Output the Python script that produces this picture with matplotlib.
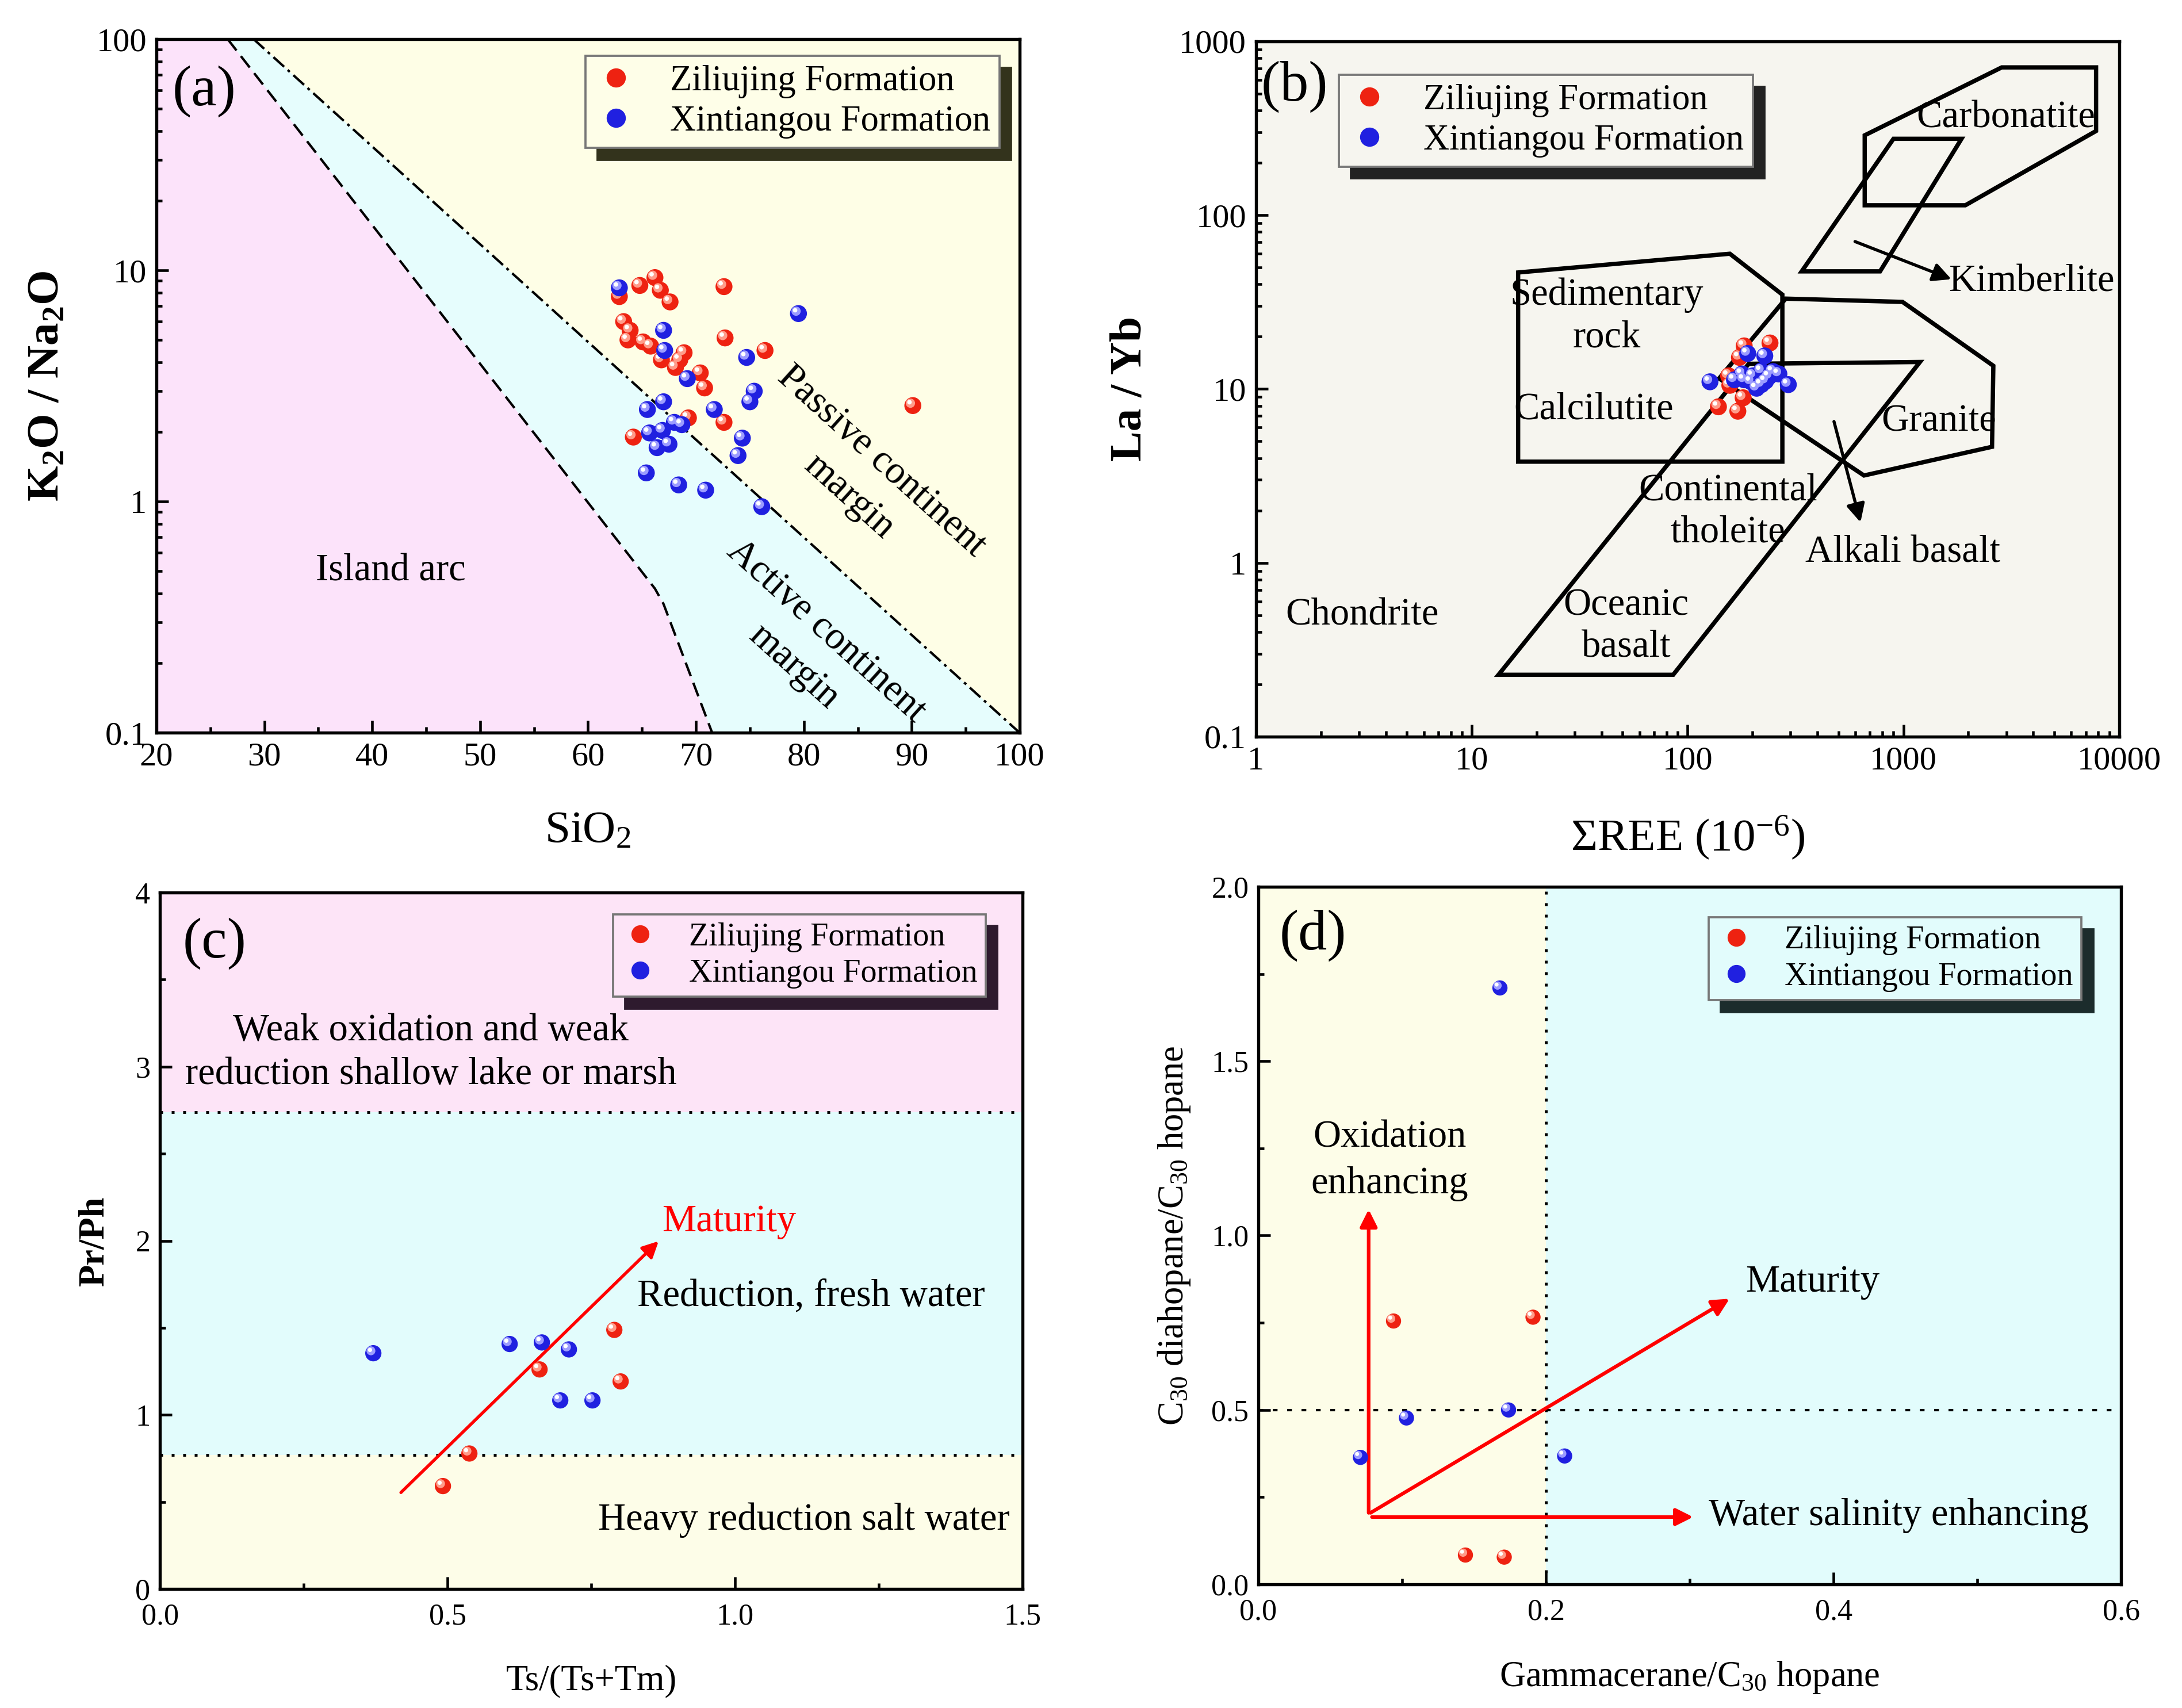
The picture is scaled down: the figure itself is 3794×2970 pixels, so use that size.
import matplotlib
matplotlib.use('Agg')
import matplotlib.pyplot as plt
from matplotlib.transforms import offset_copy
from matplotlib.lines import Line2D
from matplotlib.ticker import LogLocator, FuncFormatter, MultipleLocator, NullFormatter

plt.rcParams['font.family'] = ['Liberation Serif', 'DejaVu Serif']
plt.rcParams['mathtext.fontset'] = 'custom'
plt.rcParams['mathtext.rm'] = 'Liberation Serif'
plt.rcParams['mathtext.it'] = 'Liberation Serif:italic'
plt.rcParams['mathtext.bf'] = 'Liberation Serif:bold'

# ---- (a) SiO2 vs K2O/Na2O ----
a_zlj_sio2 = [62.9, 64.8, 66.2, 66.7, 67.6, 72.6, 63.3, 63.9, 63.7, 65.1, 65.8, 72.7,
              68.9, 68.5, 66.8, 68.1, 70.4, 70.8, 76.4, 90.1, 69.3, 72.6, 64.2]
a_zlj_ratio = [7.7, 8.6, 9.3, 8.2, 7.3, 8.5, 6.0, 5.5, 5.0, 4.9, 4.7, 5.1,
               4.4, 4.1, 4.1, 3.8, 3.6, 3.1, 4.5, 2.6, 2.3, 2.2, 1.9]
a_xtg_sio2 = [62.9, 79.5, 67.0, 67.1, 74.7, 69.2, 75.4, 75.0, 67.0, 65.5, 71.7, 68.0,
              68.7, 65.7, 66.9, 74.3, 66.4, 67.5, 73.9, 65.4, 68.4, 70.9, 76.1]
a_xtg_ratio = [8.4, 6.5, 5.5, 4.5, 4.2, 3.4, 3.0, 2.7, 2.7, 2.5, 2.5, 2.2,
               2.15, 1.98, 2.03, 1.88, 1.71, 1.77, 1.58, 1.33, 1.18, 1.12, 0.95]
arc_sio2 = [26.6, 66.2, 67.0, 71.5]
arc_ratio = [100, 0.42, 0.36, 0.1]
acm_sio2 = [29.0, 100]
acm_ratio = [100, 0.1]

# ---- (b) REE vs La/Yb ----
b_zlj_ree = [183, 241, 174, 155, 157, 181, 139, 171]
b_zlj_layb = [17.7, 18.4, 15.2, 11.9, 10.5, 8.9, 7.9, 7.45]
b_xtg_ree = [127, 190, 228, 179, 165, 201, 220, 249, 265, 293, 220, 209, 183, 239, 197, 230]
b_xtg_layb = [11.0, 16.0, 15.5, 12.2, 11.3, 11.9, 12.7, 12.6, 12.2, 10.6, 10.6, 10.1, 11.3, 11.8, 11.0, 11.1]
carb_ree = [662, 2856, 7818, 7818, 1938, 662]
carb_layb = [288, 708, 708, 305, 114, 114]
kimb_ree = [338, 900, 1860, 780]
kimb_layb = [47.5, 275, 275, 47.5]
sed_ree = [16.4, 157, 275, 275, 16.4]
sed_layb = [46.8, 60.0, 34.9, 3.82, 3.82]
basalt_ree = [13.3, 192, 1194, 85.8]
basalt_layb = [0.227, 13.96, 14.3, 0.227]
granite_ree = [140, 285, 991, 2612, 2576, 657]
granite_layb = [11.5, 33.1, 31.7, 13.6, 4.65, 3.18]

# ---- (c) Ts/(Ts+Tm) vs Pr/Ph ----
c_zlj_ts = [0.790, 0.801, 0.660, 0.538, 0.492]
c_zlj_prph = [1.488, 1.192, 1.261, 0.778, 0.591]
c_xtg_ts = [0.371, 0.608, 0.664, 0.711, 0.696, 0.752]
c_xtg_prph = [1.354, 1.407, 1.416, 1.376, 1.083, 1.083]
c_bounds = [0.77, 2.74]

# ---- (d) Gammacerane vs C30 diahopane ----
d_zlj_gam = [0.094, 0.191, 0.144, 0.171]
d_zlj_dia = [0.755, 0.766, 0.084, 0.078]
d_xtg_gam = [0.168, 0.103, 0.174, 0.071, 0.213]
d_xtg_dia = [1.710, 0.477, 0.500, 0.364, 0.368]
d_bounds = [0.2, 0.5]

RED, RED_HI = '#EE2211', '#FF9C8A'
BLUE, BLUE_HI = '#2020E0', '#9C9CFF'
LABELS = ['Ziliujing Formation', 'Xintiangou Formation']


def balls(ax, x, y, color, hi, size=50, z=5):
    fig = ax.figure
    ax.scatter(x, y, s=size, c=color, edgecolors='none', zorder=z)
    t1 = offset_copy(ax.transData, fig=fig, x=-1.0, y=1.0, units='points')
    ax.scatter(x, y, s=size * 0.3, c=hi, edgecolors='none', transform=t1, zorder=z + 0.1)
    t2 = offset_copy(ax.transData, fig=fig, x=-1.4, y=1.4, units='points')
    ax.scatter(x, y, s=size * 0.07, c='white', edgecolors='none', transform=t2, zorder=z + 0.2)


def add_legend(ax, anchor, fs, face, shade, ms=7):
    handles = [Line2D([], [], marker='o', ls='', color=RED, markersize=ms),
               Line2D([], [], marker='o', ls='', color=BLUE, markersize=ms)]
    leg = ax.legend(handles, LABELS, loc='upper left', bbox_to_anchor=anchor, fontsize=fs,
                    frameon=True, fancybox=False, framealpha=1, facecolor=face,
                    edgecolor='#777777', handletextpad=0.9, borderpad=0.25,
                    labelspacing=0.2, handlelength=1.2, borderaxespad=0,
                    shadow={'ox': 5, 'oy': -5, 'facecolor': shade, 'edgecolor': shade, 'alpha': 1})
    leg.get_frame().set_linewidth(0.9)
    leg.set_zorder(20)
    return leg


def style(ax, labelsize):
    for s in ax.spines.values():
        s.set_linewidth(1.3)
        s.set_zorder(30)
    ax.tick_params(which='both', direction='in', top=False, right=False, width=1.1,
                   labelsize=labelsize, pad=4)
    ax.tick_params(which='major', length=5)
    ax.tick_params(which='minor', length=2.5)


gfmt = FuncFormatter(lambda v, p: f'{v:g}')

fig = plt.figure(figsize=(3794 / 300, 2970 / 300), dpi=300)

# ================= (a) =================
ax = fig.add_axes([0.0717, 0.5710, 0.3956, 0.4061])
ax.set_yscale('log')
ax.set_xlim(20, 100)
ax.set_ylim(0.1, 100)
ax.fill([20, 20] + arc_sio2, [0.1, 100] + arc_ratio, color='#FCE3FA', lw=0, zorder=0)
ax.fill(arc_sio2 + acm_sio2[::-1], arc_ratio + acm_ratio[::-1], color='#E6FDFD', lw=0, zorder=0)
ax.fill(acm_sio2 + [100], acm_ratio + [100], color='#FEFEE6', lw=0, zorder=0)
ax.plot(arc_sio2, arc_ratio, color='k', lw=1.0, ls=(0, (6, 3)), zorder=2)
ax.plot(acm_sio2, acm_ratio, color='k', lw=1.0, ls=(0, (6, 2, 1.2, 2)), zorder=2)
balls(ax, a_zlj_sio2, a_zlj_ratio, RED, RED_HI, z=5)
balls(ax, a_xtg_sio2, a_xtg_ratio, BLUE, BLUE_HI, z=8)
ax.text(41.7, 0.50, 'Island arc', fontsize=16, ha='center', va='center')
ax.text(85.7, 1.25, 'Passive continent\nmargin', fontsize=16, ha='center', va='center',
        rotation=-42, linespacing=1.5)
ax.text(80.6, 0.23, 'Active continent\nmargin', fontsize=16, ha='center', va='center',
        rotation=-42, linespacing=1.5)
ax.text(0.055, 0.925, '(a)', transform=ax.transAxes, fontsize=24, ha='center', va='center')
ax.xaxis.set_major_locator(MultipleLocator(10))
ax.xaxis.set_minor_locator(MultipleLocator(5))
ax.yaxis.set_major_locator(LogLocator(base=10))
ax.yaxis.set_minor_locator(LogLocator(base=10, subs=range(2, 10)))
ax.yaxis.set_major_formatter(gfmt)
ax.yaxis.set_minor_formatter(NullFormatter())
style(ax, 14)
ax.set_xlabel('SiO$_2$', fontsize=19, labelpad=16)
ax.set_ylabel(r'K$_\mathbf{2}$O / Na$_\mathbf{2}$O', fontsize=19, fontweight='bold', labelpad=12)
add_legend(ax, (0.497, 0.976), 15, '#FEFEE8', '#33331C')

# ================= (b) =================
ax = fig.add_axes([0.5756, 0.5687, 0.3956, 0.4071])
ax.set_xscale('log')
ax.set_yscale('log')
ax.set_xlim(1, 10000)
ax.set_ylim(0.1, 1000)
ax.set_facecolor('#F6F5EF')
for xs, ys in [(carb_ree, carb_layb), (kimb_ree, kimb_layb), (sed_ree, sed_layb),
               (basalt_ree, basalt_layb), (granite_ree, granite_layb)]:
    ax.fill(xs, ys, facecolor='none', edgecolor='k', lw=1.8, zorder=3)
arrow_k = dict(arrowstyle='-|>', color='k', lw=1.3, mutation_scale=16, shrinkA=0, shrinkB=0)
ax.annotate('', xy=(1670, 42.8), xytext=(597, 70.5), arrowprops=arrow_k, zorder=4)
ax.annotate('', xy=(633, 1.71), xytext=(477, 6.5), arrowprops=arrow_k, zorder=4)
balls(ax, b_zlj_ree, b_zlj_layb, RED, RED_HI, z=5)
balls(ax, b_xtg_ree, b_xtg_layb, BLUE, BLUE_HI, z=8)
fs_b = 16
ax.text(2988, 364, 'Carbonatite', fontsize=fs_b, ha='center', va='center')
ax.text(3936, 41.3, 'Kimberlite', fontsize=fs_b, ha='center', va='center')
ax.text(42.3, 26.2, 'Sedimentary\nrock', fontsize=fs_b, ha='center', va='center', linespacing=1.25)
ax.text(36.7, 7.65, 'Calcilutite', fontsize=fs_b, ha='center', va='center')
ax.text(1459, 6.5, 'Granite', fontsize=fs_b, ha='center', va='center')
ax.text(154, 1.97, 'Continental\ntholeite', fontsize=fs_b, ha='center', va='center', linespacing=1.25)
ax.text(991, 1.14, 'Alkali basalt', fontsize=fs_b, ha='center', va='center')
ax.text(52, 0.43, 'Oceanic\nbasalt', fontsize=fs_b, ha='center', va='center', linespacing=1.25)
ax.text(3.1, 0.50, 'Chondrite', fontsize=fs_b, ha='center', va='center')
ax.text(0.045, 0.935, '(b)', transform=ax.transAxes, fontsize=24, ha='center', va='center')
for axis in (ax.xaxis, ax.yaxis):
    axis.set_major_locator(LogLocator(base=10))
    axis.set_minor_locator(LogLocator(base=10, subs=range(2, 10)))
    axis.set_major_formatter(gfmt)
    axis.set_minor_formatter(NullFormatter())
style(ax, 14)
ax.set_xlabel('ΣREE (10$^{-6}$)', fontsize=19, labelpad=16)
ax.set_ylabel('La / Yb', fontsize=19, fontweight='bold', labelpad=12)
add_legend(ax, (0.096, 0.952), 15, '#F6F5EF', '#222222')

# ================= (c) =================
ax = fig.add_axes([0.0733, 0.0697, 0.3954, 0.4077])
ax.set_xlim(0, 1.5)
ax.set_ylim(0, 4)
ax.axhspan(c_bounds[1], 4, color='#FDE4F7', lw=0, zorder=0)
ax.axhspan(c_bounds[0], c_bounds[1], color='#E2FCFC', lw=0, zorder=0)
ax.axhspan(0, c_bounds[0], color='#FDFDE8', lw=0, zorder=0)
for b in c_bounds:
    ax.axhline(b, color='k', lw=1.2, ls=(0, (1, 3)), zorder=2)
ax.annotate('', xy=(0.867, 1.998), xytext=(0.419, 0.554),
            arrowprops=dict(arrowstyle='-|>', color='red', lw=1.3, mutation_scale=14,
                            shrinkA=0, shrinkB=0), zorder=4)
balls(ax, c_zlj_ts, c_zlj_prph, RED, RED_HI, size=46, z=5)
balls(ax, c_xtg_ts, c_xtg_prph, BLUE, BLUE_HI, size=46, z=8)
ax.text(0.873, 2.11, 'Maturity', color='red', fontsize=16, ha='left', va='center')
ax.text(0.471, 3.08, 'Weak oxidation and weak\nreduction shallow lake or marsh', fontsize=16,
        ha='center', va='center', linespacing=1.3)
ax.text(1.132, 1.68, 'Reduction, fresh water', fontsize=16, ha='center', va='center')
ax.text(1.120, 0.395, 'Heavy reduction salt water', fontsize=16, ha='center', va='center')
ax.text(0.063, 0.927, '(c)', transform=ax.transAxes, fontsize=24, ha='center', va='center')
ax.xaxis.set_major_locator(MultipleLocator(0.5))
ax.xaxis.set_minor_locator(MultipleLocator(0.25))
ax.yaxis.set_major_locator(MultipleLocator(1))
ax.yaxis.set_minor_locator(MultipleLocator(0.5))
ax.xaxis.set_major_formatter(FuncFormatter(lambda v, p: f'{v:.1f}'))
ax.yaxis.set_major_formatter(FuncFormatter(lambda v, p: f'{v:.0f}'))
style(ax, 12.5)
ax.tick_params(axis='x', pad=6)
ax.set_xlabel('Ts/(Ts+Tm)', fontsize=15, labelpad=14)
ax.set_ylabel('Pr/Ph', fontsize=15, fontweight='bold', labelpad=10)
add_legend(ax, (0.525, 0.969), 13.5, '#FDE4F7', '#2E1A2E', ms=6.5)

# ================= (d) =================
ax = fig.add_axes([0.5767, 0.0724, 0.3954, 0.4084])
ax.set_xlim(0, 0.6)
ax.set_ylim(0, 2.0)
ax.axvspan(0, d_bounds[0], color='#FDFDE8', lw=0, zorder=0)
ax.axvspan(d_bounds[0], 0.6, color='#E2FCFC', lw=0, zorder=0)
ax.axvline(d_bounds[0], color='k', lw=1.2, ls=(0, (1, 3)), zorder=2)
ax.axhline(d_bounds[1], color='k', lw=1.0, ls=(0, (2, 4)), zorder=2)
arrow_r = dict(arrowstyle='-|>', color='red', lw=1.5, mutation_scale=15, shrinkA=0, shrinkB=0)
ax.annotate('', xy=(0.0767, 1.075), xytext=(0.0767, 0.205), arrowprops=arrow_r, zorder=4)
ax.annotate('', xy=(0.3024, 0.193), xytext=(0.079, 0.193), arrowprops=arrow_r, zorder=4)
ax.annotate('', xy=(0.3277, 0.819), xytext=(0.078, 0.205), arrowprops=arrow_r, zorder=4)
balls(ax, d_zlj_gam, d_zlj_dia, RED, RED_HI, size=40, z=5)
balls(ax, d_xtg_gam, d_xtg_dia, BLUE, BLUE_HI, size=40, z=8)
ax.text(0.0913, 1.215, 'Oxidation\nenhancing', fontsize=16, ha='center', va='center', linespacing=1.4)
ax.text(0.339, 0.866, 'Maturity', fontsize=16, ha='left', va='center')
ax.text(0.313, 0.197, 'Water salinity enhancing', fontsize=16, ha='left', va='center')
ax.text(0.063, 0.93, '(d)', transform=ax.transAxes, fontsize=24, ha='center', va='center')
ax.xaxis.set_major_locator(MultipleLocator(0.2))
ax.xaxis.set_minor_locator(MultipleLocator(0.1))
ax.yaxis.set_major_locator(MultipleLocator(0.5))
ax.yaxis.set_minor_locator(MultipleLocator(0.25))
ax.xaxis.set_major_formatter(FuncFormatter(lambda v, p: f'{v:.1f}'))
ax.yaxis.set_major_formatter(FuncFormatter(lambda v, p: f'{v:.1f}'))
style(ax, 12.5)
ax.tick_params(axis='x', pad=6)
ax.set_xlabel('Gammacerane/C$_{30}$ hopane', fontsize=15, labelpad=14)
ax.set_ylabel('C$_{30}$ diahopane/C$_{30}$ hopane', fontsize=15, labelpad=8)
add_legend(ax, (0.522, 0.956), 13.5, '#E2FCFC', '#1C2C2C', ms=6.5)

fig.savefig('out.png', dpi=300)
